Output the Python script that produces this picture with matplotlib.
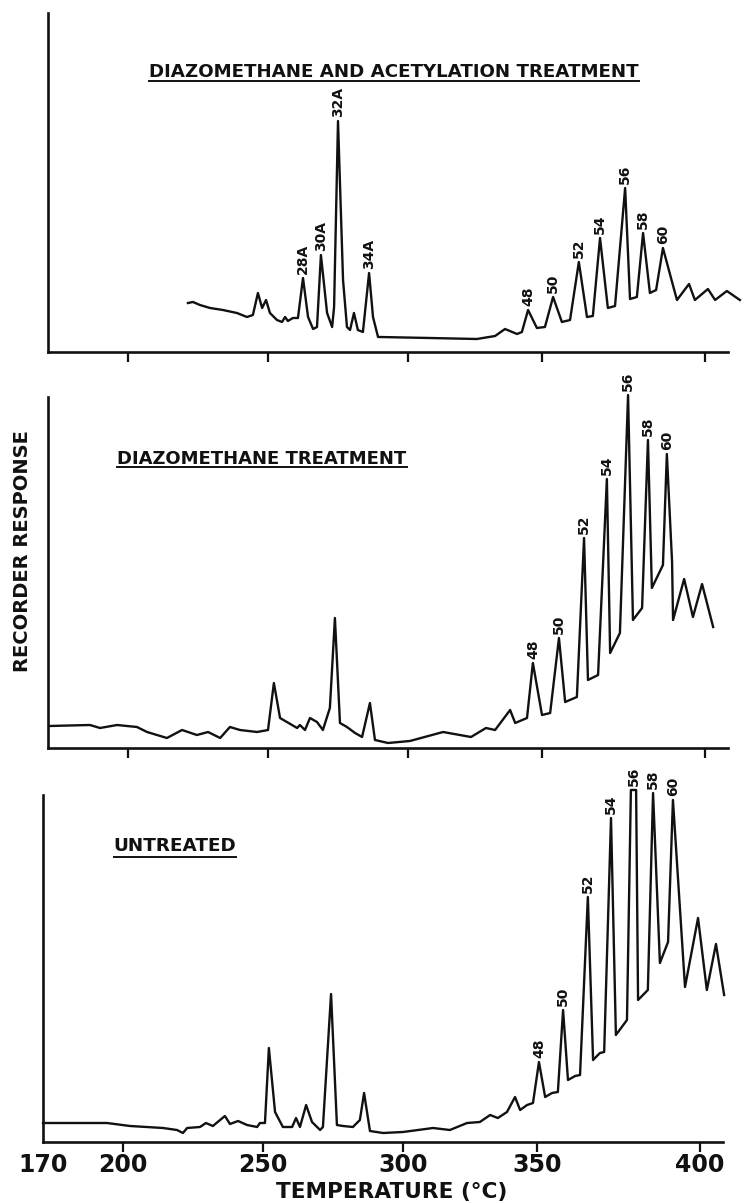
import numpy as np
import matplotlib
matplotlib.use("Agg")
import matplotlib.pyplot as plt
from matplotlib.lines import Line2D

# ---------------- data (temperature °C, recorder response, arbitrary units) ----------------
top_T = [221.4, 223.2, 225.7, 229.3, 233.9, 238.9, 242.5, 244.6, 246.4, 247.9, 249.3, 250.7,
         253.2, 255.0, 256.1, 257.1, 258.9, 260.7, 262.5, 264.3, 266.1, 267.5, 268.9, 271.1,
         272.9, 273.6, 275.0, 276.8, 278.2, 279.3, 280.7, 282.1, 283.9, 286.1, 287.5, 289.3,
         290.0, 308.2, 325.7, 332.5, 336.2, 340.7, 342.5, 344.8, 348.1, 350.9, 353.4, 356.1,
         358.6, 361.3, 363.8, 365.6, 367.8, 370.2, 372.4, 375.5, 377.0, 379.1, 381.0, 383.1,
         385.0, 387.1, 389.9, 391.4, 395.1, 396.9, 400.9, 403.1, 406.7, 410.7]
top_R = [49, 50, 47, 44, 42, 39, 35, 37, 59, 44, 52, 39,
         32, 30, 35, 31, 34, 34, 74, 35, 23, 25, 97, 39,
         25, 45, 231, 72, 25, 22, 39, 22, 20, 79, 35, 15,
         15, 14, 13, 16, 23, 18, 20, 42, 24, 25, 55, 30,
         32, 90, 35, 36, 114, 44, 46, 164, 53, 55, 119, 59,
         62, 104, 70, 52, 68, 52, 63, 52, 61, 52]
top_labels = ["28A", "30A", "32A", "34A", "48", "50", "52", "54", "56", "58", "60"]
top_label_T = [262.5, 268.9, 275.0, 286.1, 344.8, 353.4, 361.3, 367.8, 375.5, 381.0, 387.1]

mid_T = [170.4, 185.75, 189.5, 195.9, 203.2, 206.8, 213.9, 219.3, 224.6, 228.6, 232.9, 236.4,
         240.0, 246.1, 250.0, 252.1, 254.3, 260.4, 261.4, 263.2, 265.0, 267.5, 269.6, 272.1,
         273.9, 275.7, 278.2, 281.1, 283.6, 286.4, 288.2, 292.9, 300.7, 313.1, 323.5, 329.1,
         332.5, 338.1, 340.0, 344.4, 346.6, 350.0, 352.5, 355.2, 357.1, 360.7, 362.9, 364.1,
         367.2, 369.9, 370.9, 373.9, 376.4, 377.9, 380.7, 382.5, 383.7, 387.1, 388.3, 389.9,
         390.2, 393.6, 396.3, 399.1, 402.5]
mid_R = [22, 23, 20, 23, 21, 16, 10, 18, 13, 16, 10, 21,
         18, 16, 18, 65, 30, 20, 23, 18, 30, 26, 18, 40,
         130, 25, 21, 15, 11, 45, 8, 5, 7, 16, 11, 20,
         18, 38, 25, 30, 85, 33, 35, 110, 46, 51, 210, 68,
         73, 269, 95, 115, 353, 128, 140, 308, 160, 183, 294, 186,
         128, 169, 131, 164, 121]
mid_labels = ["48", "50", "52", "54", "56", "58", "60"]
mid_label_T = [346.6, 355.2, 362.9, 369.9, 376.4, 382.5, 388.3]

bot_T = [170.0, 177.5, 194.0, 202.5, 214.3, 219.3, 221.4, 222.9, 227.5, 229.6, 232.1, 236.4,
         238.2, 241.1, 244.3, 247.9, 248.9, 250.7, 252.1, 254.3, 257.1, 260.4, 261.8, 263.2,
         265.4, 267.5, 270.4, 271.4, 274.3, 276.4, 278.6, 282.1, 284.6, 286.1, 288.2, 292.9,
         300.0, 311.2, 317.5, 323.9, 328.7, 332.5, 335.4, 338.8, 341.8, 343.7, 346.3, 348.5,
         350.6, 352.5, 354.6, 356.4, 358.0, 359.5, 361.7, 363.2, 365.6, 367.2, 369.3, 370.6,
         372.7, 374.2, 377.6, 378.8, 380.4, 381.0, 384.0, 385.6, 387.7, 390.2, 391.7, 395.4,
         399.4, 402.1, 404.9, 407.4]
bot_R = [19, 19, 19, 16, 14, 12, 9, 14, 15, 19, 16, 26,
         18, 21, 17, 15, 19, 19, 94, 30, 15, 15, 24, 15,
         37, 20, 12, 15, 148, 17, 16, 15, 22, 49, 11, 9,
         10, 14, 12, 19, 20, 27, 24, 30, 45, 32, 37, 39,
         80, 45, 49, 50, 132, 62, 66, 67, 245, 82, 89, 90,
         324, 107, 122, 352, 352, 142, 152, 349, 179, 200, 342, 155,
         224, 152, 198, 147]
bot_labels = ["48", "50", "52", "54", "56", "58", "60"]
bot_label_T = [350.6, 358.0, 365.6, 372.7, 379.6, 385.6, 391.7]

tick_T = [170, 200, 250, 300, 350, 400]
tick_text = ["170", "200", "250", "300", "350", "400"]

titles = ["DIAZOMETHANE AND ACETYLATION TREATMENT", "DIAZOMETHANE TREATMENT", "UNTREATED"]

# ---------------- layout ----------------
W, H = 746, 1203
fig = plt.figure(figsize=(W / 100, H / 100), dpi=100)
plt.rcParams["font.family"] = ["DejaVu Sans"]
INK = "#111111"

# non-linear temperature axis of the recorder chart (position of the printed ticks)
_TK = [100, 170, 200, 250, 300, 350, 400, 500]
_PK = [-143.67, 43, 123, 263, 403, 537, 700, 1026]


def fwd(t):
    return np.interp(t, _TK, _PK)


def inv(p):
    return np.interp(p, _PK, _TK)


def px_axes(left, top, width, height):
    return fig.add_axes([left / W, 1 - (top + height) / H, width / W, height / H])


panels = [
    dict(box=(48, 13, 680, 339), T=top_T, R=top_R, lab=top_labels, labT=top_label_T),
    dict(box=(48, 397, 680, 351), T=mid_T, R=mid_R, lab=mid_labels, labT=mid_label_T),
    dict(box=(43, 795, 680, 347), T=bot_T, R=bot_R, lab=bot_labels, labT=bot_label_T),
]

for i, p in enumerate(panels):
    ax = px_axes(*p["box"])
    ax.set_xscale("function", functions=(fwd, inv))
    ax.set_xlim(170, inv(723))
    ax.set_ylim(0, p["box"][3])
    ax.plot(p["T"], p["R"], color=INK, lw=1.7, clip_on=False,
            solid_joinstyle="round")
    for s in ("top", "right"):
        ax.spines[s].set_visible(False)
    for s in ("left", "bottom"):
        ax.spines[s].set_linewidth(1.9)
        ax.spines[s].set_color(INK)
    ax.set_yticks([])
    ax.set_xticks(tick_T)
    ax.tick_params(axis="x", direction="out", length=7.5, width=1.6, color=INK)
    if i < 2:
        ax.set_xticklabels([])
    else:
        ax.set_xticklabels(tick_text, fontsize=17, color=INK, fontweight="bold")
        ax.tick_params(axis="x", pad=0.5)
    ax.xaxis.get_major_ticks()[0].tick1line.set_visible(False)
    ax.patch.set_alpha(0)
    for name, tt in zip(p["lab"], p["labT"]):
        yy = float(np.interp(tt, p["T"], p["R"]))
        ax.annotate(name, (tt, yy), xytext=(0, 3), textcoords="offset points",
                    rotation=90, ha="center", va="bottom", fontsize=10,
                    fontweight="bold", color=INK, annotation_clip=False)

# panel titles (underlined)
title_pos = [(394, 72, 488, 81), (262, 459, 289, 467), (175, 846, 122, 857)]
title_artists = []
for txt, (cx, cy, tw, uy) in zip(titles, title_pos):
    t = fig.text(cx / W, 1 - cy / H, txt, ha="center", va="center",
                 fontsize=13, color=INK, fontweight="bold")
    title_artists.append((t, tw, uy))

xl = fig.text(392 / W, 1 - 1192 / H, "TEMPERATURE (°C)", ha="center", va="center",
              fontsize=16, color=INK, fontweight="bold")
yl = fig.text(23 / W, 1 - 551 / H, "RECORDER RESPONSE", ha="center", va="center",
              rotation=90, fontsize=16, color=INK, fontweight="bold")

fig.canvas.draw()
r = fig.canvas.get_renderer()
for t, tw, uy in title_artists:
    w = t.get_window_extent(r).width
    t.set_fontsize(13 * tw / w)
w = xl.get_window_extent(r).width
xl.set_fontsize(16 * 231 / w)
h = yl.get_window_extent(r).height
yl.set_fontsize(16 * 242 / h)

fig.canvas.draw()
for t, tw, uy in title_artists:
    bb = t.get_window_extent(r)
    fig.add_artist(Line2D([bb.x0 / W, bb.x1 / W], [1 - uy / H, 1 - uy / H],
                          transform=fig.transFigure, color=INK, lw=1.4))

fig.savefig("out.png", dpi=100)
